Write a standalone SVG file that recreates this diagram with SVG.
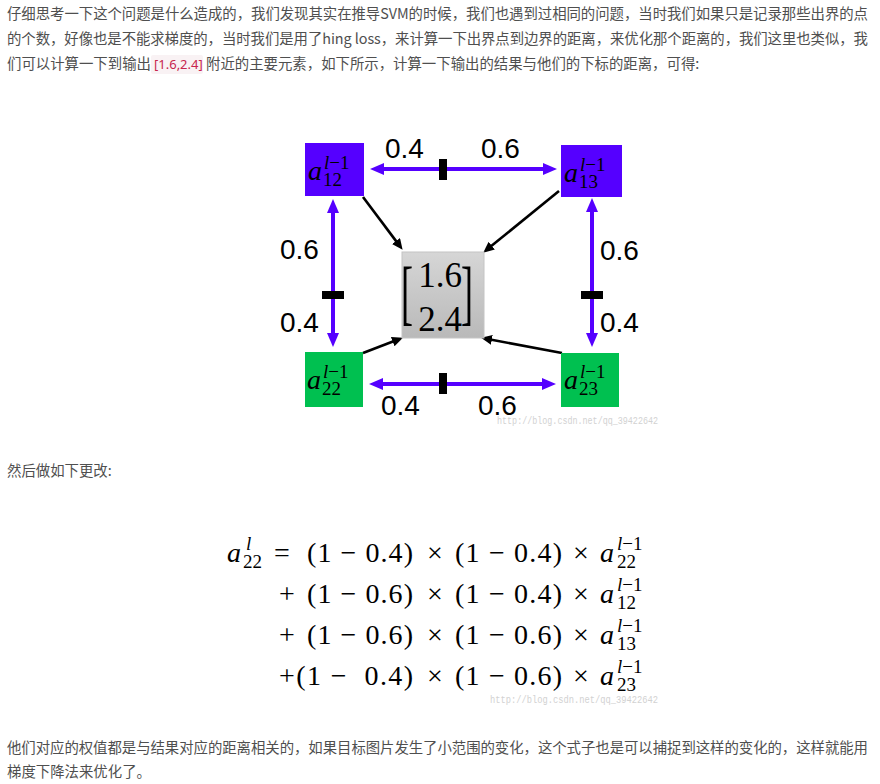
<svg xmlns="http://www.w3.org/2000/svg" width="880" height="784" viewBox="0 0 880 784">
<defs>
<style>
.p{font-family:"Noto Sans CJK SC","Noto Sans",sans-serif;font-size:14.4px;fill:#4f4f4f}
.code{font-family:"Noto Sans","Liberation Sans",sans-serif;font-size:13px;fill:#c7254e}
.num{font-family:"Liberation Sans",Arial,sans-serif;font-size:28px;fill:#000}
.m{font-family:"Liberation Serif","Times New Roman",serif;fill:#000}
.mi{font-family:"Liberation Serif","Times New Roman",serif;font-style:italic;fill:#000}
.wm{font-family:"Liberation Mono",monospace;font-size:10px;fill:#d2d2d2}
.pl{stroke:#5500ff;stroke-width:4;fill:none}
.bl{stroke:#000;stroke-width:2.6;fill:none}
.purple{fill:#5500ff}
.green{fill:#00c050}
</style>
<marker id="hp" markerWidth="14" markerHeight="12" refX="4" refY="6" orient="auto-start-reverse" markerUnits="userSpaceOnUse"><path d="M0,0 L14,6 L0,12 z" fill="#5500ff"/></marker>
<marker id="hb" markerWidth="11" markerHeight="10" refX="3" refY="5" orient="auto" markerUnits="userSpaceOnUse"><path d="M0,0 L11,5 L0,10 z" fill="#000"/></marker>
<linearGradient id="gg" x1="0" y1="0" x2="0" y2="1"><stop offset="0" stop-color="#d6d6d6"/><stop offset="1" stop-color="#b9b9b9"/></linearGradient>
</defs>
<rect width="880" height="784" fill="#fff"/>

<g id="para1">
<text class="p" x="7" y="19" textLength="861" lengthAdjust="spacing">仔细思考一下这个问题是什么造成的，我们发现其实在推导SVM的时候，我们也遇到过相同的问题，当时我们如果只是记录那些出界的点</text>
<text class="p" x="7" y="44" textLength="861" lengthAdjust="spacing">的个数，好像也是不能求梯度的，当时我们是用了hing loss，来计算一下出界点到边界的距离，来优化那个距离的，我们这里也类似，我</text>
<text class="p" x="7" y="69">们可以计算一下到输出</text>
<rect x="151" y="55" width="52" height="19" rx="2" fill="#f9f2f4"/>
<text class="code" x="154" y="69">[1.6,2.4]</text>
<text class="p" x="206" y="69">附近的主要元素，如下所示，计算一下输出的结果与他们的下标的距离，可得:</text>
</g>

<g id="connectors">
<line class="pl" x1="380" y1="169" x2="547" y2="169" marker-start="url(#hp)" marker-end="url(#hp)"/>
<rect x="439" y="159" width="8" height="21" fill="#000"/>
<line class="pl" x1="379" y1="384" x2="546" y2="384" marker-start="url(#hp)" marker-end="url(#hp)"/>
<rect x="439" y="373" width="8" height="21" fill="#000"/>
<line class="pl" x1="333" y1="209" x2="333" y2="337" marker-start="url(#hp)" marker-end="url(#hp)"/>
<rect x="322" y="291" width="22" height="8" fill="#000"/>
<line class="pl" x1="592" y1="208" x2="592" y2="337" marker-start="url(#hp)" marker-end="url(#hp)"/>
<rect x="581" y="291" width="22" height="8" fill="#000"/>
<line class="bl" x1="363" y1="197" x2="397.8" y2="243.4" marker-end="url(#hb)"/>
<line class="bl" x1="559" y1="191" x2="489.4" y2="247.6" marker-end="url(#hb)"/>
<line class="bl" x1="363" y1="353" x2="395.5" y2="340.5" marker-end="url(#hb)"/>
<line class="bl" x1="562" y1="353" x2="488.9" y2="339.3" marker-end="url(#hb)"/>
<text class="num" x="385" y="158">0.4</text>
<text class="num" x="481" y="158">0.6</text>
<text class="num" x="280" y="259">0.6</text>
<text class="num" x="600" y="260">0.6</text>
<text class="num" x="280" y="332">0.4</text>
<text class="num" x="600" y="332">0.4</text>
<text class="num" x="381" y="415">0.4</text>
<text class="num" x="478" y="415">0.6</text>
</g>

<g id="node-a12">
<rect class="purple" x="305" y="143" width="59" height="53"/>
<text class="mi" x="308" y="180" font-size="28">a</text>
<text class="mi" x="324" y="169" font-size="19">l<tspan font-style="normal">−1</tspan></text>
<text class="m" x="323" y="186" font-size="19">12</text>
</g>
<g id="node-a13">
<rect class="purple" x="561" y="145" width="61" height="52"/>
<text class="mi" x="564" y="182" font-size="28">a</text>
<text class="mi" x="580" y="171" font-size="19">l<tspan font-style="normal">−1</tspan></text>
<text class="m" x="579" y="188" font-size="19">13</text>
</g>
<g id="node-a22">
<rect class="green" x="305" y="352" width="58" height="55"/>
<text class="mi" x="307" y="389" font-size="28">a</text>
<text class="mi" x="323" y="378" font-size="19">l<tspan font-style="normal">−1</tspan></text>
<text class="m" x="322" y="395" font-size="19">22</text>
</g>
<g id="node-a23">
<rect class="green" x="561" y="353" width="58" height="54"/>
<text class="mi" x="564" y="389" font-size="28">a</text>
<text class="mi" x="580" y="378" font-size="19">l<tspan font-style="normal">−1</tspan></text>
<text class="m" x="579" y="395" font-size="19">23</text>
</g>
<g id="node-output">
<rect x="402" y="252" width="82" height="86" fill="url(#gg)" stroke="#c4c4c4" stroke-width="1"/>
<text class="m" font-size="36" transform="translate(401,315.8) scale(1,2)">[</text>
<text class="m" font-size="36" transform="translate(461,315.8) scale(1,2)">]</text>
<text class="m" x="440" y="287" font-size="35" text-anchor="middle">1.6</text>
<text class="m" x="440" y="331" font-size="35" text-anchor="middle">2.4</text>
</g>
<text class="wm" x="497" y="424" textLength="161" lengthAdjust="spacingAndGlyphs">http://blog.csdn.net/qq_39422642</text>

<text class="p" x="7" y="476">然后做如下更改:</text>

<g id="equation" font-size="28">
<text class="mi" x="227" y="562">a</text>
<text class="mi" x="246" y="550" font-size="19">l</text>
<text class="m" x="243" y="568" font-size="19">22</text>
<text class="m" x="274" y="562">=</text>
<text class="m" x="307" y="562" textLength="106" xml:space="preserve">(1 − 0.4)</text>
<text class="m" x="427" y="562">×</text>
<text class="m" x="455" y="562" textLength="107" xml:space="preserve">(1 − 0.4)</text>
<text class="m" x="573" y="562">×</text>
<text class="mi" x="600" y="562">a</text>
<text class="mi" x="617" y="550" font-size="19">l<tspan font-style="normal">−1</tspan></text>
<text class="m" x="617" y="568" font-size="19">22</text>

<text class="m" x="279" y="603">+</text>
<text class="m" x="307" y="603" textLength="106" xml:space="preserve">(1 − 0.6)</text>
<text class="m" x="427" y="603">×</text>
<text class="m" x="455" y="603" textLength="107" xml:space="preserve">(1 − 0.4)</text>
<text class="m" x="573" y="603">×</text>
<text class="mi" x="600" y="603">a</text>
<text class="mi" x="617" y="591" font-size="19">l<tspan font-style="normal">−1</tspan></text>
<text class="m" x="617" y="609" font-size="19">12</text>

<text class="m" x="279" y="644">+</text>
<text class="m" x="307" y="644" textLength="106" xml:space="preserve">(1 − 0.6)</text>
<text class="m" x="427" y="644">×</text>
<text class="m" x="455" y="644" textLength="107" xml:space="preserve">(1 − 0.6)</text>
<text class="m" x="573" y="644">×</text>
<text class="mi" x="600" y="644">a</text>
<text class="mi" x="617" y="632" font-size="19">l<tspan font-style="normal">−1</tspan></text>
<text class="m" x="617" y="650" font-size="19">13</text>

<text class="m" x="279" y="685" textLength="134" xml:space="preserve">+(1 −  0.4)</text>
<text class="m" x="427" y="685">×</text>
<text class="m" x="455" y="685" textLength="107" xml:space="preserve">(1 − 0.6)</text>
<text class="m" x="573" y="685">×</text>
<text class="mi" x="600" y="685">a</text>
<text class="mi" x="617" y="673" font-size="19">l<tspan font-style="normal">−1</tspan></text>
<text class="m" x="617" y="691" font-size="19">23</text>
</g>
<text class="wm" x="490" y="703" textLength="168" lengthAdjust="spacingAndGlyphs">http://blog.csdn.net/qq_39422642</text>

<g id="para3">
<text class="p" x="7" y="753" textLength="861" lengthAdjust="spacing">他们对应的权值都是与结果对应的距离相关的，如果目标图片发生了小范围的变化，这个式子也是可以捕捉到这样的变化的，这样就能用</text>
<text class="p" x="7" y="777">梯度下降法来优化了。</text>
</g>
</svg>
